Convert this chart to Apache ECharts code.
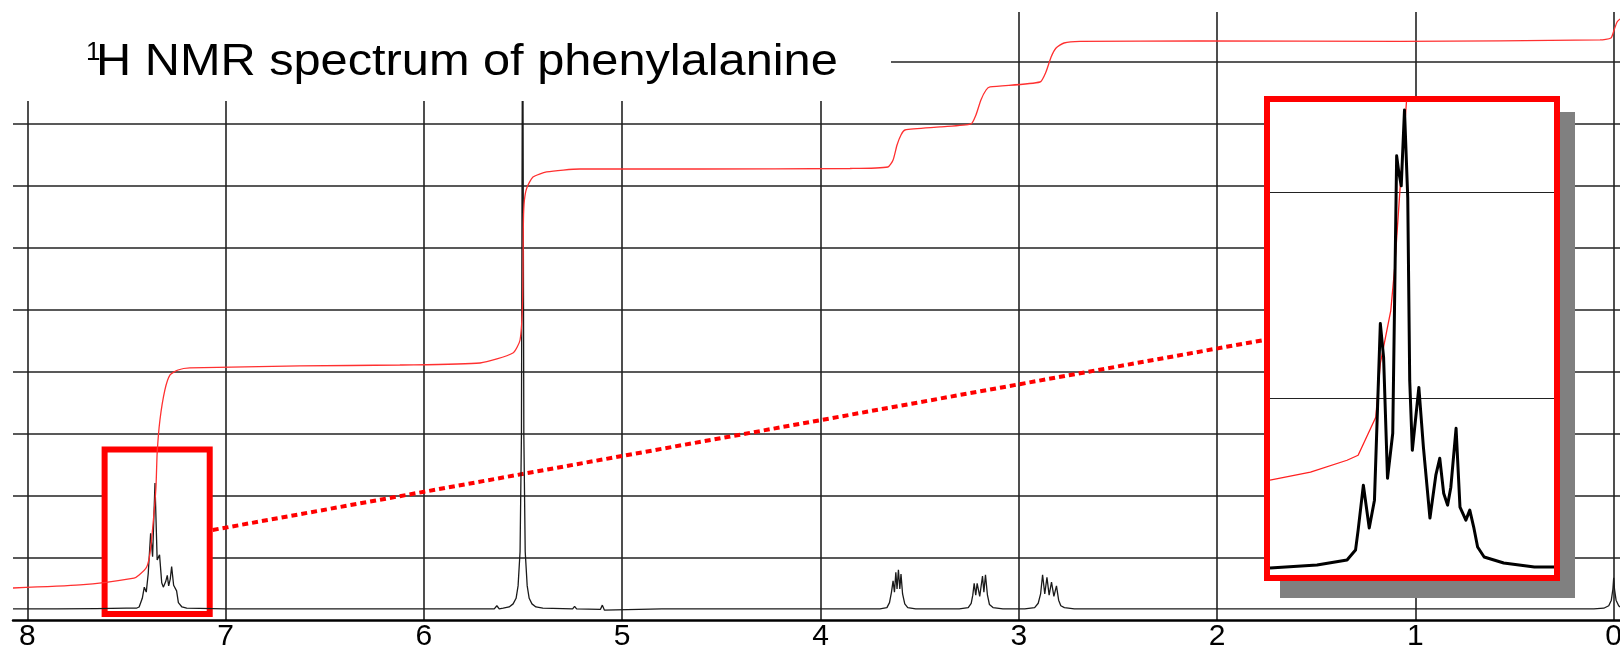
<!DOCTYPE html>
<html><head><meta charset="utf-8">
<script src="https://cdn.jsdelivr.net/npm/echarts@6/dist/echarts.min.js"></script>
<style>html,body{margin:0;padding:0;background:#fff}#c{width:1620px;height:649px}</style>
</head><body><div id="c"></div>
<script>
// ---------- text ----------
const titleSup = '1';
const titleText = 'H NMR spectrum of phenylalanine';

// ---------- main spectrum [ppm, intensity] ----------
const baselineA = [[8.072,0.18],[7.85,0.18],[7.65,0.185],[7.50,0.19]];
const phenylPeaks = [[7.45,0.19],[7.436,0.21],[7.42,0.35],[7.41,0.53],[7.40,0.45],[7.39,0.75],[7.378,1.40],[7.368,1.02],[7.356,2.21],[7.345,0.97],[7.333,1.05],[7.322,0.60],[7.314,0.53],[7.302,0.62],[7.294,0.72],[7.287,0.55],[7.279,0.66],[7.272,0.86],[7.262,0.56],[7.255,0.55],[7.247,0.47],[7.238,0.28],[7.22,0.21],[7.196,0.19]];
const baselineB = [[7.0,0.18],[6.5,0.18],[6.0,0.18],[5.70,0.18],[5.645,0.18],[5.632,0.23],[5.62,0.18]];
const solventPeak = [[5.60,0.19],[5.57,0.21],[5.55,0.26],[5.535,0.35],[5.525,0.55],[5.515,1.1],[5.508,3.0],[5.502,11.0],[5.496,3.0],[5.489,1.1],[5.479,0.55],[5.469,0.35],[5.455,0.26],[5.435,0.21],[5.40,0.19]];
const baselineC = [[5.25,0.18],[5.24,0.22],[5.23,0.18],[5.11,0.17],[5.10,0.24],[5.09,0.16],[4.8,0.18],[4.2,0.18],[3.75,0.18]];
const alphaCH = [[3.70,0.18],[3.665,0.20],[3.652,0.28],[3.642,0.45],[3.634,0.63],[3.627,0.45],[3.620,0.77],[3.614,0.50],[3.607,0.81],[3.600,0.50],[3.594,0.74],[3.586,0.42],[3.575,0.26],[3.56,0.20],[3.52,0.18]];
const betaCHa = [[3.30,0.18],[3.255,0.20],[3.24,0.27],[3.232,0.40],[3.225,0.59],[3.217,0.40],[3.210,0.59],[3.197,0.38],[3.183,0.71],[3.176,0.45],[3.168,0.73],[3.158,0.40],[3.148,0.25],[3.13,0.20],[3.08,0.18]];
const betaCHb = [[2.97,0.18],[2.92,0.20],[2.902,0.27],[2.89,0.42],[2.880,0.73],[2.869,0.42],[2.858,0.69],[2.847,0.40],[2.835,0.61],[2.823,0.38],[2.810,0.55],[2.799,0.32],[2.788,0.23],[2.77,0.20],[2.72,0.18]];
const baselineD = [[2.4,0.18],[2.0,0.18],[1.5,0.18],[1.0,0.18],[0.5,0.18],[0.10,0.18]];
const tmsPeak = [[0.05,0.19],[0.025,0.23],[0.012,0.32],[0.004,0.5],[0.0,0.68],[-0.004,0.5],[-0.012,0.32],[-0.025,0.23],[-0.032,0.21]];

// ---------- integral curve [ppm, value] ----------
const integralCurve = [[8.072,0.516],[7.734,0.565],[7.462,0.677],[7.436,0.726],[7.398,0.855],[7.381,1.081],[7.364,1.613],[7.351,2.145],[7.345,2.694],[7.331,3.226],[7.306,3.710],[7.280,3.952],[7.240,4.032],[7.180,4.065],[6.625,4.097],[6.121,4.113],[5.717,4.145],[5.551,4.306],[5.515,4.516],[5.502,5.161],[5.498,6.452],[5.493,6.774],[5.481,6.968],[5.450,7.145],[5.381,7.226],[5.213,7.274],[4.607,7.274],[3.851,7.282],[3.660,7.306],[3.634,7.419],[3.614,7.661],[3.594,7.823],[3.574,7.903],[3.397,7.952],[3.241,8.000],[3.216,8.145],[3.191,8.387],[3.165,8.548],[3.145,8.597],[2.893,8.677],[2.863,8.839],[2.837,9.081],[2.812,9.226],[2.772,9.306],[2.691,9.331],[2.086,9.339],[1.078,9.331],[0.069,9.355],[0.014,9.387],[-0.002,9.516],[-0.017,9.645],[-0.032,9.694]];

// ---------- zoom box + connector ----------
const zoomBoxPpm = [7.610, 7.080];
const zoomBoxValue = [2.75, 0.097];
const connector = [[7.065,1.452],[1.763,4.516]];

// ---------- inset (enlarged aromatic multiplet) ----------
const insetPpmRange = [7.118, 7.553];
const insetSpectrum = [[7.553,0.148],[7.481,0.211],[7.435,0.316],[7.422,0.527],[7.418,0.949],[7.410,1.899],[7.401,0.992],[7.393,1.582],[7.384,5.316],[7.379,4.599],[7.373,2.046],[7.365,2.996],[7.359,8.861],[7.356,8.544],[7.352,8.228],[7.347,9.831],[7.342,7.975],[7.339,4.114],[7.335,2.637],[7.325,3.966],[7.318,2.700],[7.308,1.203],[7.299,2.110],[7.293,2.468],[7.287,1.730],[7.281,1.477],[7.276,1.857],[7.268,3.101],[7.262,1.435],[7.253,1.160],[7.247,1.371],[7.241,1.013],[7.235,0.591],[7.225,0.380],[7.195,0.253],[7.148,0.169],[7.118,0.169]];
const insetIntegral = [[7.553,2.004],[7.491,2.173],[7.435,2.426],[7.418,2.532],[7.391,3.333],[7.384,4.473],[7.368,5.591],[7.362,6.498],[7.353,8.333],[7.344,10.0],[7.342,10.3]];
const insetGridValues = [3.74, 8.10];

const spectrum = [].concat(baselineA, phenylPeaks, baselineB, solventPeak, baselineC, alphaCH, betaCHa, betaCHb, baselineD, tmsPeak);

const gridColor = '#222222';
const fontFam = 'Liberation Sans, Arial, sans-serif';
const chart = echarts.init(document.getElementById('c'), null, {renderer: 'canvas'});
chart.setOption({
  animation: false,
  backgroundColor: '#ffffff',
  grid: [
    {left: 13, top: 12, width: 1799, height: 608, containLabel: false, outerBoundsMode: 'none'},
    {left: 1270, top: 102, width: 284, height: 473, containLabel: false, outerBoundsMode: 'none'}
  ],
  xAxis: [
    {type: 'value', gridIndex: 0, min: -1, max: 8.072, interval: 1, inverse: true,
     axisLine: {show: true, onZero: false, lineStyle: {color: '#000', width: 2.5}},
     axisTick: {show: false},
     axisLabel: {color: '#000', fontSize: 30, fontFamily: fontFam, margin: 2, showMaxLabel: false},
     splitLine: {show: true, showMaxLine: false, lineStyle: {color: gridColor, width: 1.6}}},
    {type: 'value', gridIndex: 1, min: insetPpmRange[0], max: insetPpmRange[1], inverse: true, show: false,
     splitLine: {show: false}}
  ],
  yAxis: [
    {type: 'value', gridIndex: 0, min: 0, max: 9.806, interval: 1,
     axisLine: {show: false}, axisTick: {show: false}, axisLabel: {show: false},
     splitLine: {show: true, showMinLine: false, showMaxLine: false, lineStyle: {color: gridColor, width: 1.6}}},
    {type: 'value', gridIndex: 1, min: 0, max: 10, show: false, splitLine: {show: false}}
  ],
  series: [
    {type: 'line', xAxisIndex: 0, yAxisIndex: 0, data: [], z: 1, silent: true,
     markArea: {silent: true, z: 1, itemStyle: {color: '#ffffff', borderColor: '#ff0000', borderWidth: 6},
       data: [[{xAxis: zoomBoxPpm[0], yAxis: zoomBoxValue[0]}, {xAxis: zoomBoxPpm[1], yAxis: zoomBoxValue[1]}]]}},
    {type: 'line', xAxisIndex: 0, yAxisIndex: 0, data: connector, z: 2, symbol: 'none', silent: true,
     lineStyle: {color: '#ff0000', width: 4, type: [6, 4]}},
    {type: 'line', xAxisIndex: 0, yAxisIndex: 0, data: spectrum, z: 3, symbol: 'none', silent: true,
     lineStyle: {color: '#1a1a1a', width: 1.3}},
    {type: 'line', xAxisIndex: 0, yAxisIndex: 0, data: integralCurve, z: 3, symbol: 'none', silent: true, smooth: 0.2,
     lineStyle: {color: '#ff3030', width: 1.3}},
    {type: 'line', xAxisIndex: 1, yAxisIndex: 1, data: insetIntegral, z: 26, symbol: 'none', silent: true,
     lineStyle: {color: '#ff2020', width: 1.3},
     markLine: {silent: true, z: 25, symbol: ['none', 'none'], label: {show: false}, animation: false,
       lineStyle: {color: '#222', width: 1, type: 'solid'},
       data: insetGridValues.map(v => ({yAxis: v}))}},
    {type: 'line', xAxisIndex: 1, yAxisIndex: 1, data: insetSpectrum, z: 27, symbol: 'none', silent: true,
     lineStyle: {color: '#000', width: 3, join: 'round'}}
  ],
  graphic: [
    {type: 'rect', z: 20, silent: true, shape: {x: 1280, y: 112, width: 295, height: 486}, style: {fill: '#808080'}},
    {type: 'rect', z: 21, silent: true, shape: {x: 1267, y: 99, width: 290, height: 479}, style: {fill: '#ffffff', stroke: '#ff0000', lineWidth: 6}},
    {type: 'rect', z: 50, silent: true, shape: {x: 0, y: 0, width: 891, height: 101}, style: {fill: '#ffffff'}},
    {type: 'text', z: 51, silent: true, x: 86, y: 53, style: {text: titleSup, fontSize: 26, fontFamily: fontFam, fill: '#000', verticalAlign: 'middle'}},
    {type: 'text', z: 51, silent: true, x: 96, y: 63, scaleX: 1.107, style: {text: titleText, fontSize: 44, fontFamily: fontFam, fill: '#000', verticalAlign: 'middle'}}
  ]
});
</script></body></html>
